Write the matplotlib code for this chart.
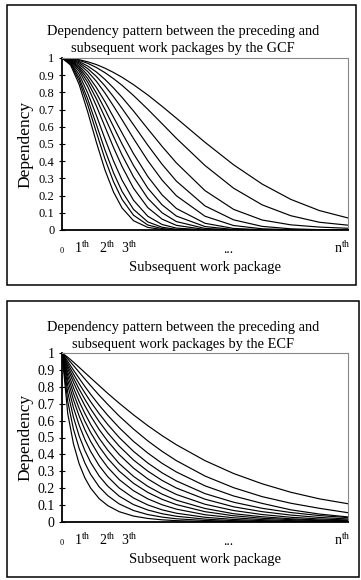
import matplotlib
matplotlib.use("Agg")
import matplotlib.pyplot as plt
from matplotlib.patches import Rectangle

plt.rcParams['font.family'] = 'Liberation Serif'
plt.rcParams['mathtext.fontset'] = 'custom'
plt.rcParams['mathtext.rm'] = 'Liberation Serif'
plt.rcParams['mathtext.it'] = 'Liberation Serif:italic'

W, H = 361, 580

# x positions are fractions of the work-package axis (0 .. n)
x_gcf = [0, 0.03, 0.06, 0.09, 0.12, 0.15, 0.18, 0.21, 0.25, 0.3, 0.35, 0.4,
         0.5, 0.6, 0.7, 0.8, 0.9, 1.0]
x_ecf = [0, 0.02, 0.04, 0.06, 0.08, 0.1, 0.13, 0.16, 0.2, 0.25, 0.3, 0.35,
         0.4, 0.5, 0.6, 0.7, 0.8, 0.9, 1.0]

# GCF dependency curves (inner -> outer)
gcf_1 = [1, .959, .846, .686, .511, .350, .221, .128, .054, .015, .003, 0, 0, 0, 0, 0, 0, 0]
gcf_2 = [1, .965, .868, .728, .569, .414, .281, .178, .086, .029, .008, .002, 0, 0, 0, 0, 0, 0]
gcf_3 = [1, .970, .885, .760, .614, .466, .333, .224, .120, .047, .016, .004, 0, 0, 0, 0, 0, 0]
gcf_4 = [1, .975, .904, .796, .667, .531, .402, .290, .173, .080, .032, .011, .001, 0, 0, 0, 0, 0]
gcf_5 = [1, .980, .922, .833, .722, .601, .480, .369, .243, .130, .063, .027, .003, 0, 0, 0, 0, 0]
gcf_6 = [1, .983, .935, .859, .763, .655, .544, .436, .309, .184, .100, .049, .009, .001, 0, 0, 0, 0]
gcf_7 = [1, .986, .945, .880, .797, .702, .601, .500, .375, .243, .146, .081, .020, .003, 0, 0, 0, 0]
gcf_8 = [1, .988, .954, .900, .829, .747, .656, .564, .444, .311, .204, .125, .039, .009, .002, 0, 0, 0]
gcf_9 = [1, .991, .964, .921, .865, .797, .721, .641, .532, .403, .290, .199, .080, .026, .007, .002, 0, 0]
gcf_10 = [1, .993, .972, .938, .893, .838, .775, .707, .612, .493, .382, .284, .140, .059, .021, .007, .002, .001]
gcf_11 = [1, .995, .979, .953, .919, .876, .826, .771, .692, .588, .486, .390, .229, .120, .058, .030, .017, .010]
gcf_12 = [1, .996, .986, .969, .945, .915, .880, .841, .782, .702, .618, .533, .375, .243, .146, .083, .045, .028]
gcf_13 = [1, .998, .990, .978, .962, .941, .916, .888, .845, .785, .719, .650, .510, .379, .267, .178, .113, .070]

# ECF dependency curves (inner -> outer)
ecf_1 = [1, .642, .463, .344, .261, .201, .138, .097, .061, .035, .021, .013, .008, .003, .001, 0, 0, 0, 0]
ecf_2 = [1, .713, .550, .435, .349, .282, .208, .156, .107, .068, .044, .029, .019, .009, .004, .002, .001, 0, 0]
ecf_3 = [1, .767, .620, .509, .423, .353, .272, .212, .153, .103, .071, .049, .034, .017, .008, .004, .002, .001, .001]
ecf_4 = [1, .809, .677, .573, .488, .418, .333, .268, .201, .142, .101, .072, .052, .028, .015, .008, .004, .002, .001]
ecf_5 = [1, .840, .723, .627, .546, .477, .392, .323, .251, .185, .137, .102, .076, .043, .025, .014, .008, .005, .003]
ecf_6 = [1, .866, .761, .672, .596, .530, .446, .376, .301, .229, .175, .134, .103, .061, .037, .022, .014, .008, .005]
ecf_7 = [1, .888, .795, .713, .642, .578, .495, .425, .346, .270, .211, .165, .129, .080, .049, .031, .019, .012, .008]
ecf_8 = [1, .908, .827, .754, .688, .628, .547, .478, .399, .319, .255, .204, .163, .105, .068, .044, .028, .018, .012]
ecf_9 = [1, .923, .852, .786, .726, .670, .594, .527, .449, .367, .301, .246, .201, .135, .090, .061, .041, .027, .018]
ecf_10 = [1, .937, .876, .818, .764, .712, .641, .577, .500, .418, .349, .291, .243, .168, .117, .081, .056, .038, .026]
ecf_11 = [1, .950, .899, .850, .802, .756, .691, .631, .558, .477, .408, .347, .296, .214, .154, .110, .072, .047, .030]
ecf_12 = [1, .965, .926, .886, .846, .807, .750, .696, .627, .550, .480, .418, .363, .272, .203, .150, .111, .081, .055]
ecf_13 = [1, .975, .946, .915, .884, .853, .807, .761, .703, .634, .570, .511, .457, .363, .287, .226, .176, .137, .108]

gcf_curves = [gcf_1, gcf_2, gcf_3, gcf_4, gcf_5, gcf_6, gcf_7, gcf_8, gcf_9,
              gcf_10, gcf_11, gcf_12, gcf_13]
ecf_curves = [ecf_1, ecf_2, ecf_3, ecf_4, ecf_5, ecf_6, ecf_7, ecf_8, ecf_9,
              ecf_10, ecf_11, ecf_12, ecf_13]

y_ticks = [0, 0.1, 0.2, 0.3, 0.4, 0.5, 0.6, 0.7, 0.8, 0.9, 1]
y_ticklabels = ['0', '0.1', '0.2', '0.3', '0.4', '0.5', '0.6', '0.7', '0.8', '0.9', '1']
x_ticks = [0, 0.07, 0.16, 0.235, 0.58, 0.98]
x_ticklabels = ['0', r'1$^{\rm th}$', r'2$^{\rm th}$', r'3$^{\rm th}$', '...', r'n$^{\rm th}$']

title_gcf = ['Dependency pattern between the preceding and',
             'subsequent work packages by the GCF']
title_ecf = ['Dependency pattern between the preceding and',
             'subsequent work packages by the ECF']

fig = plt.figure(figsize=(W / 100, H / 100), dpi=100)


def panel(box, plot, title, xs, curves, tick_fs):
    # box and plot are pixel rectangles (left, top, right, bottom)
    bx0, by0, bx1, by1 = box
    fig.patches.append(Rectangle((bx0 / W, 1 - by1 / H), (bx1 - bx0) / W, (by1 - by0) / H,
                                 transform=fig.transFigure, fill=False, ec='black', lw=1.1))
    px0, py0, px1, py1 = plot
    ax = fig.add_axes([px0 / W, 1 - py1 / H, (px1 - px0) / W, (py1 - py0) / H])
    for c in curves:
        ax.plot(xs, c, color='black', lw=0.85)
    ax.set_xlim(0, 1)
    ax.set_ylim(0, 1)
    for s in ['top', 'right']:
        ax.spines[s].set_color('#888888')
        ax.spines[s].set_linestyle((0, (1, 1)))
        ax.spines[s].set_linewidth(0.8)
    for s in ['left', 'bottom']:
        ax.spines[s].set_color('black')
        ax.spines[s].set_linewidth(1.3)
    ax.set_yticks(y_ticks, y_ticklabels)
    ax.tick_params(axis='y', direction='inout', length=5, width=0.8,
                   labelsize=tick_fs, pad=3)
    ax.set_xticks([])
    ph = py1 - py0
    for xp, lab in zip(x_ticks, x_ticklabels):
        fs = 6 if lab == '0' else 10
        ax.text(xp, -23 / ph, lab, transform=ax.get_xaxis_transform(),
                ha='center', va='baseline', fontsize=fs)
    fig.text(205 / W, 1 - (py1 + 41) / H, 'Subsequent work package',
             ha='center', va='baseline', fontsize=10.5)
    fig.text(25 / W, 1 - (py0 + py1) / 2 / H, 'Dependency', rotation=90,
             ha='center', va='center', fontsize=12.5)
    fig.text(183 / W, 1 - (by0 + 30) / H, title[0], ha='center', va='baseline', fontsize=10.4)
    fig.text(183 / W, 1 - (by0 + 47) / H, title[1], ha='center', va='baseline', fontsize=10.4)
    return ax


panel((7, 5, 356, 285), (62, 58, 348, 230), title_gcf, x_gcf, gcf_curves, 9)
panel((7, 301, 359, 577), (62, 353, 348, 522), title_ecf, x_ecf, ecf_curves, 10)

fig.savefig('out.png', dpi=100)
